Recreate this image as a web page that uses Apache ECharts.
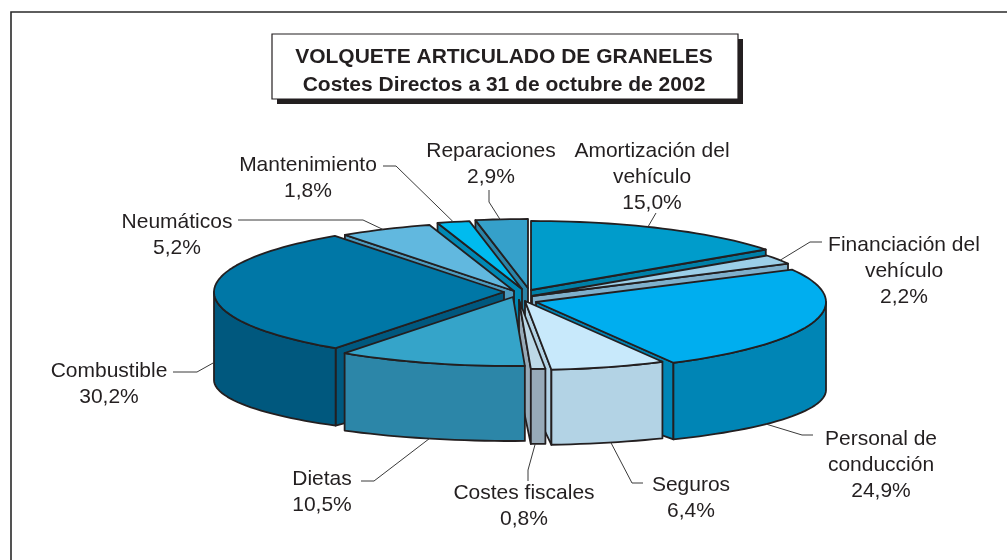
<!DOCTYPE html>
<html>
<head>
<meta charset="utf-8">
<style>
  html, body { margin: 0; padding: 0; background: #fff; }
  #chart { width: 1007px; height: 560px; }
</style>
<script src="https://cdn.jsdelivr.net/npm/echarts@6/dist/echarts.min.js"></script>
</head>
<body>
<div id="chart"></div>
<script>
// data
const categories = ["Amortización del\nvehículo", "Financiación del\nvehículo", "Personal de\nconducción", "Seguros", "Costes fiscales", "Dietas", "Combustible", "Neumáticos", "Mantenimiento", "Reparaciones"];
const shares = [15.0, 2.2, 24.9, 6.4, 0.8, 10.5, 30.2, 5.2, 1.8, 2.9];
const titleLines = ["VOLQUETE ARTICULADO DE GRANELES", "Costes Directos a 31 de octubre de 2002"];

// styling, one entry per slice
const topColors = ["#009ccb", "#9ccfe8", "#00aeef", "#c8e9fb", "#bcd8e7", "#35a4c9", "#0077a6", "#61b8df", "#00bbef", "#35a0ca"];
const wallColors = ["#0080a8", "#7fb0cc", "#0085b5", "#b3d3e5", "#97aab8", "#2c86a8", "#00587e", "#4d9cc0", "#0089b5", "#2a84a8"];
// how far each slice is pulled out of the centre
const explode = [[13, -4], [14, 2], [18, 8], [7, 7], [1, 6], [-5, 3], [-14, -2], [-4, -3], [4, -5], [10, -6]];
// painted back to front, slice index by position
const paintOrder = [9, 8, 0, 7, 1, 6, 2, 3, 4, 5];
// label centre, then the leader: where on the slice it starts (t along the arc, h down the wall), then its free points
const labelCentres = [[652, 177], [904, 271], [881, 465], [691, 498], [524, 506], [322, 492], [109, 384], [177, 235], [308, 178], [491, 164]];
const leaders = [
  { t: 0.44, h: 0, pts: [[656, 213]] },
  { t: 0.6, h: 0, pts: [[810, 242], [822, 242]] },
  { t: 0.73, h: 1, pts: [[802, 435], [813, 435]] },
  { t: 0.48, h: 1, pts: [[632, 483], [643, 483]] },
  { t: 0.7, h: 1, pts: [[528, 470], [528, 481]] },
  { t: 0.505, h: 1, pts: [[374, 481], [361, 481]] },
  { t: 0.5, h: 0.8, pts: [[197, 372], [173, 372]] },
  { t: 0.47, h: 0, pts: [[363, 220], [238, 220]] },
  { t: 0.5, h: 0, pts: [[396, 166], [383, 166]] },
  { t: 0.47, h: 0, pts: [[489, 202], [489, 190]] }
];

const centre = [518, 294];
const rx = 290, ry = 69;
const depth = 88, depthTilt = 13; // walls look a bit taller at the sides than at the front
const ink = "#231f20";
const font = "Liberation Sans, Arial, sans-serif";

const total = shares.reduce((a, b) => a + b, 0);
const rad = d => d * Math.PI / 180;

function sweep(i) {
  let before = 0;
  for (let k = 0; k < i; k++) before += shares[k];
  return [before / total * 360, (before + shares[i]) / total * 360];
}

function topPoint(i, r, deg) {
  return [
    centre[0] + explode[i][0] + r * rx * Math.sin(rad(deg)),
    centre[1] + explode[i][1] - r * ry * Math.cos(rad(deg))
  ];
}

function bottomPoint(i, r, deg, h) {
  const p = topPoint(i, r, deg);
  return [p[0], p[1] + h * (depth + depthTilt * r * Math.cos(rad(deg)))];
}

function arc(from, to, fn) {
  const n = Math.max(2, Math.ceil(Math.abs(to - from) / 2));
  const out = [];
  for (let k = 0; k <= n; k++) out.push(fn(from + (to - from) * k / n));
  return out;
}

function renderSlice(params, api) {
  const i = params.dataIndex;
  const share = api.value(0);
  const [a0, a1] = sweep(i);
  const order = paintOrder.indexOf(i) * 2;
  const wallStyle = { fill: wallColors[i], stroke: ink, lineWidth: 1.8, lineJoin: "round" };
  const children = [];

  const face = deg => ({
    type: "polygon", z2: order,
    shape: { points: [topPoint(i, 0, deg), topPoint(i, 1, deg), bottomPoint(i, 1, deg, 1), bottomPoint(i, 0, deg, 1)] },
    style: wallStyle
  });
  if (Math.sin(rad(a0)) < 0) children.push(face(a0));
  if (Math.sin(rad(a1)) > 0) children.push(face(a1));

  // outer wall only where it faces the viewer
  const w0 = Math.max(a0, 90), w1 = Math.min(a1, 270);
  if (w1 > w0) {
    children.push({
      type: "polygon", z2: order,
      shape: { points: arc(w0, w1, d => topPoint(i, 1, d)).concat(arc(w1, w0, d => bottomPoint(i, 1, d, 1))) },
      style: wallStyle
    });
  }

  children.push({
    type: "polygon", z2: order + 1,
    shape: { points: [topPoint(i, 0, a0)].concat(arc(a0, a1, d => topPoint(i, 1, d))) },
    style: { fill: topColors[i], stroke: ink, lineWidth: 1.8, lineJoin: "round" }
  });

  const lead = leaders[i];
  const at = a0 + (a1 - a0) * lead.t;
  children.push({
    type: "polyline", z2: 1000,
    shape: { points: [bottomPoint(i, 1, at, lead.h)].concat(lead.pts) },
    style: { fill: null, stroke: "#3a3a3a", lineWidth: 1 }
  });

  children.push({
    type: "text", z2: 1001,
    x: labelCentres[i][0], y: labelCentres[i][1],
    style: {
      text: categories[i] + "\n" + share.toFixed(1).replace(".", ",") + "%",
      fill: ink, font: "21px " + font, lineHeight: 26,
      align: "center", verticalAlign: "middle"
    }
  });
  return { type: "group", children: children };
}

const chart = echarts.init(document.getElementById("chart"), null, { renderer: "canvas" });
chart.setOption({
  animation: false,
  backgroundColor: "#fff",
  graphic: [
    { type: "polyline", shape: { points: [[11, 560], [11, 12], [1007, 12]] }, style: { fill: null, stroke: "#2a2a2a", lineWidth: 1.6 } },
    { type: "rect", shape: { x: 277, y: 39, width: 466, height: 65 }, style: { fill: ink } },
    { type: "rect", shape: { x: 272, y: 34, width: 466, height: 65 }, style: { fill: "#fff", stroke: ink, lineWidth: 1.2 } },
    { type: "text", x: 504, y: 57, style: { text: titleLines[0], fill: ink, font: "bold 21px " + font, align: "center", verticalAlign: "middle" } },
    { type: "text", x: 504, y: 85, style: { text: titleLines[1], fill: ink, font: "bold 21px " + font, align: "center", verticalAlign: "middle" } }
  ],
  series: [{
    type: "custom",
    coordinateSystem: "none",
    silent: true,
    clip: false,
    renderItem: renderSlice,
    data: shares.map((v, i) => ({ name: categories[i], value: [v] }))
  }]
});
</script>
</body>
</html>
